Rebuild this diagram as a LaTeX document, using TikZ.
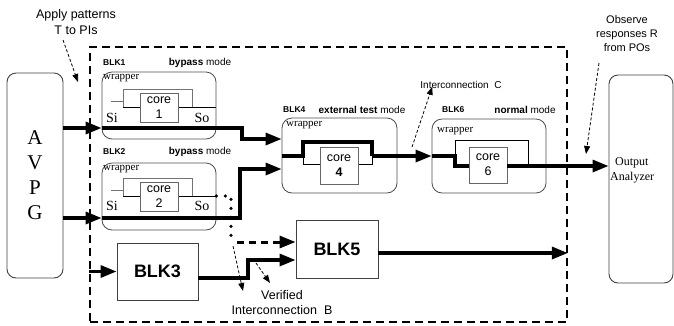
\documentclass[tikz,border=0pt]{standalone}
\usepackage{fontspec}
\setmainfont{Liberation Serif}
\setsansfont{Liberation Sans}
\usetikzlibrary{arrows.meta,calc}

\newcommand{\fsz}[2]{\fontsize{#1}{#2}\selectfont}

\begin{document}
\begin{tikzpicture}[x=1pt,y=-1pt,
  wrapbox/.style={draw=black!70, line width=0.8pt, rounded corners=10pt, inner sep=0pt},
  corebox/.style={draw=black!60, line width=0.8pt, fill=white, inner sep=0pt,
    align=center, font=\sffamily\fsz{12.5}{15}},
  blkbox/.style={draw=black!75, line width=0.9pt, inner sep=0pt, fill=white,
    font=\sffamily\bfseries\fsz{18}{20}},
  socframe/.style={draw, line width=1.8pt, dash pattern=on 8pt off 5pt, inner sep=0pt},
  thickline/.style={line width=3.2pt},
  bigarrow/.style={thickline, -{Triangle[length=16pt,width=12pt]}},
  thinline/.style={line width=0.9pt},
  greyline/.style={line width=0.9pt, black!55},
  dotline/.style={line width=3.6pt, line cap=round, dash pattern=on 0pt off 9pt},
  dasharrow/.style={line width=3pt, dash pattern=on 7pt off 5pt, -{Triangle[length=16pt,width=12pt]}},
  noteline/.style={line width=0.8pt, dash pattern=on 3pt off 2pt, -{Triangle[length=8pt,width=6pt]}},
  blklabel/.style={font=\sffamily\bfseries\fsz{8.5}{10}, anchor=west, inner sep=0pt},
  modelabel/.style={font=\sffamily\fsz{10}{12}, inner sep=0pt},
  wraplabel/.style={font=\fsz{11}{12}, anchor=west, inner sep=0pt},
  portlabel/.style={font=\fsz{14}{15}, inner sep=0pt},
  notetext/.style={font=\sffamily\fsz{12.5}{16}, align=center, inner sep=0pt},
]
\useasboundingbox (0,0) rectangle (674,325);

% ---------- pattern generator, SoC boundary, response analyzer ----------
\node[draw=black!75, line width=0.9pt, rounded corners=9pt, minimum width=56, minimum height=205,
  inner sep=0pt, align=center, font=\fsz{21}{25}] (avpg) at (35,175.5) {A\\V\\P\\G};
\node[socframe, minimum width=477, minimum height=275] (soc) at (328.5,184.5) {};
\node[draw=black!75, line width=0.9pt, rounded corners=9pt, minimum width=64, minimum height=208,
  inner sep=0pt] (oa) at (641,179) {};
\node[anchor=west, align=left, inner sep=0pt, font=\fsz{12}{15}] (oatext) at (610,170.5)
  {\hspace*{5pt}Output\\Analyzer};

% ---------- annotations outside the SoC ----------
\node[notetext] (apply) at (76,22) {Apply patterns\\T to PIs};
\node[notetext, font=\sffamily\fsz{11}{14}] (observe) at (627,34) {Observe\\responses R\\from POs};
\coordinate (applytail) at (63,40);
\coordinate (applytip) at (78,82);
\coordinate (obstail) at (599,63);
\coordinate (obstip) at (586,154);
\draw[noteline] (applytail) -- (applytip);
\draw[noteline] (obstail) -- (obstip);

% ---------- wrappers ----------
\node[wrapbox, minimum width=114, minimum height=67] (w1) at (159,105.5) {};
\node[wrapbox, minimum width=114, minimum height=67] (w2) at (159,196.5) {};
\node[wrapbox, minimum width=115, minimum height=75] (w4) at (339.5,155.5) {};
\node[wrapbox, minimum width=114, minimum height=74] (w6) at (489,156) {};

\node[blklabel] (l1) at (103,63) {BLK1};
\node[modelabel] (m1) at (200,63) {\textbf{bypass} mode};
\node[blklabel] (l2) at (103,152) {BLK2};
\node[modelabel] (m2) at (200,152) {\textbf{bypass} mode};
\node[blklabel] (l4) at (283,110) {BLK4};
\node[modelabel] (m4) at (362,110) {\textbf{external test} mode};
\node[blklabel] (l6) at (442,110) {BLK6};
\node[modelabel] (m6) at (525,110) {\textbf{normal} mode};

\node[wraplabel] (wl1) at (103,78) {wrapper};
\node[wraplabel] (wl2) at (103,169) {wrapper};
\node[wraplabel] (wl4) at (286,125) {wrapper};
\node[wraplabel] (wl6) at (437,131) {wrapper};

% ---------- BLK1 : bypass ----------
\draw[greyline] (111,101) -- (123,101);
\draw[greyline] (123,107) -- (123,89) -- (192,89) -- (192,107);
\draw[thinline] (123,107) -- (140,107);
\draw[thinline] (178,107) -- (w1.east |- 0,107);
\node[corebox, minimum width=38, minimum height=29] (c1) at (159,107.5) {core\\1};
\node[portlabel] (si1) at (112,118) {Si};
\node[portlabel] (so1) at (202,118) {So};

% ---------- BLK2 : bypass ----------
\draw[greyline] (111,190) -- (123,190);
\draw[greyline] (123,196) -- (123,178) -- (192,178) -- (192,196);
\draw[thinline] (123,196) -- (140,196);
\draw[thinline] (178,196) -- (w2.east |- 0,196);
\node[corebox, minimum width=38, minimum height=29] (c2) at (159,196.5) {core\\2};
\node[portlabel] (si2) at (112,206) {Si};
\node[portlabel] (so2) at (202,206) {So};

% ---------- BLK4 : external test ----------
\draw[thinline] (303,156) -- (303,164) -- (320,164);
\draw[thinline] (358,164) -- (372,164) -- (372,156);
\node[corebox, minimum width=38, minimum height=37] (c4) at (339,165.5) {core\\\textbf{4}};
\draw[thickline] (w4.west |- 0,156) -- (303,156) -- (303,142) -- (372,142) -- (372,156);

% ---------- BLK6 : normal ----------
\draw[thinline] (455,156) -- (455,140) -- (528,140) -- (528,166);
\node[corebox, minimum width=38, minimum height=36] (c6) at (488,165) {core\\6};
\draw[thickline] (w6.west |- 0,156) -- (455,156) -- (455,166) -- (c6.west |- 0,166);

% ---------- plain blocks ----------
\node[blkbox, minimum width=81, minimum height=57] (b3) at (157.5,271.5) {BLK3};
\node[blkbox, minimum width=82, minimum height=58] (b5) at (337,249) {BLK5};

% ---------- test access paths ----------
\draw[bigarrow] (avpg.east |- 0,128) -- (w1.west |- 0,128);
\draw[bigarrow] (w1.west |- 0,128) -- (242,128) -- (242,139) -- (w4.west |- 0,139);
\draw[bigarrow] (avpg.east |- 0,218) -- (w2.west |- 0,218);
\draw[bigarrow] (w2.west |- 0,218) -- (240,218) -- (240,169) -- (w4.west |- 0,169);
\draw[bigarrow] (372,156) -- (w6.west |- 0,156);
\draw[bigarrow] (c6.east |- 0,166) -- (oa.west |- 0,166);
\draw[bigarrow] (soc.west |- b3.west) -- (b3.west);
\draw[bigarrow] (b3.east |- 0,278) -- (248,278) -- (248,260) -- (b5.west |- 0,260);
\draw[bigarrow] (b5.east |- 0,253) -- (soc.east |- 0,253);

% interconnection under verification, BLK2 -> BLK5
\draw[dotline] (w2.east |- 0,196) -- (231,196) -- (231,242);
\coordinate (dashstart) at (237,242);
\draw[dasharrow] (dashstart) -- (b5.west |- 0,242);

% ---------- interconnection labels ----------
\node[font=\sffamily\fsz{10}{12}, inner sep=0pt] (icc) at (461,85) {Interconnection\ \ C};
\coordinate (ctail) at (412,147);
\draw[noteline] (ctail) -- ($(icc.south west)+(12,-2)$);

\node[notetext, font=\sffamily\fsz{12.5}{15}] (icb) at (282,302.5) {Verified\\Interconnection\ \ B};
\coordinate (btail1) at (233,246);
\coordinate (btip1) at (243,291);
\coordinate (btail2) at (256,263);
\coordinate (btip2) at (270,283);
\draw[noteline] (btail1) -- (btip1);
\draw[noteline] (btail2) -- (btip2);
\end{tikzpicture}
\end{document}
